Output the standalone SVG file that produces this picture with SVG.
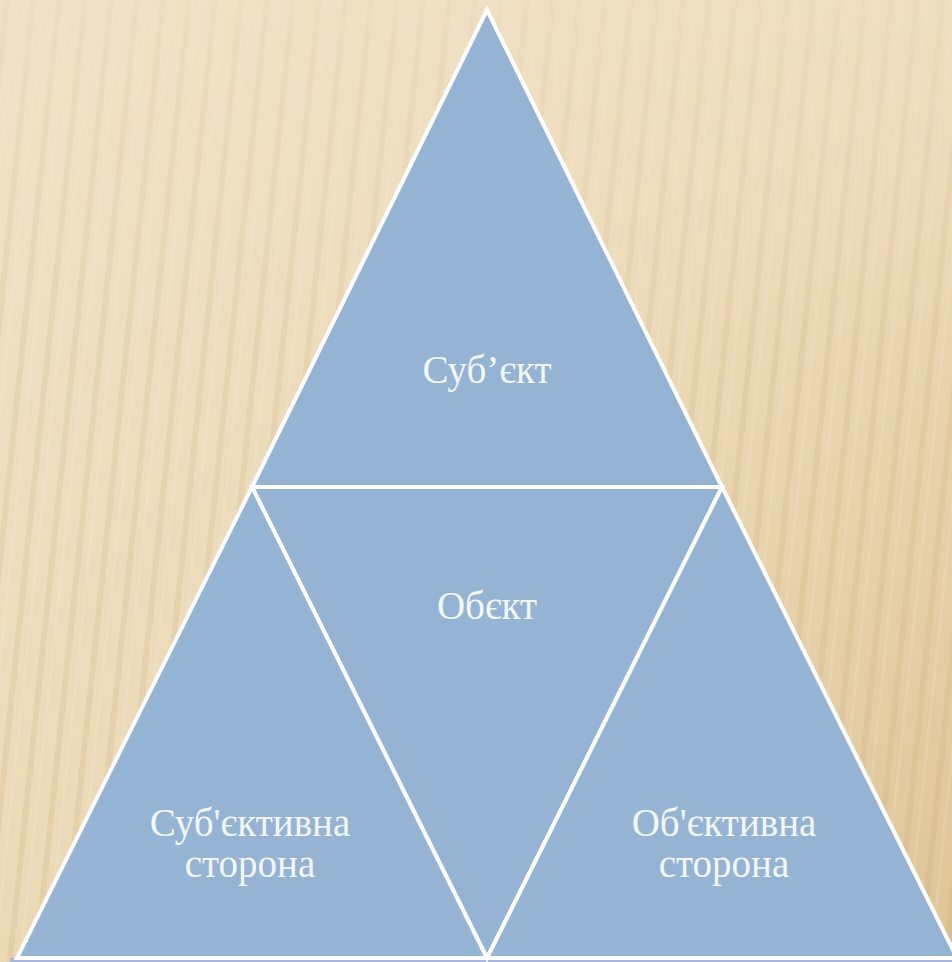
<svg xmlns="http://www.w3.org/2000/svg" width="952" height="962" viewBox="0 0 952 962">
  <defs>
    <linearGradient id="bg" x1="0" y1="0" x2="1" y2="1">
      <stop offset="0" stop-color="#F0E2C6"/>
      <stop offset="0.5" stop-color="#EBD9B6"/>
      <stop offset="1" stop-color="#DFC496"/>
    </linearGradient>
    <pattern id="stripes" width="26" height="962" patternUnits="userSpaceOnUse" patternTransform="skewX(-6)">
      <rect x="4" y="0" width="6" height="962" fill="#C9A66E" opacity="0.2"/>
      <rect x="16" y="0" width="3" height="962" fill="#FFFFFF" opacity="0.1"/>
    </pattern>
    <linearGradient id="fade" x1="0" y1="0" x2="0" y2="1">
      <stop offset="0" stop-color="#F0E2C6" stop-opacity="0.7"/>
      <stop offset="0.35" stop-color="#F0E2C6" stop-opacity="0.15"/>
      <stop offset="1" stop-color="#F0E2C6" stop-opacity="0"/>
    </linearGradient>
    <style>
      .tri { fill: #95B3D3; stroke: #FFFFFF; stroke-width: 4; stroke-linejoin: miter; }
      .lbl { font-family: "Liberation Serif", "DejaVu Serif", "Times New Roman", serif; font-size: 39px; fill: #F4F7FA; text-anchor: middle; }
    </style>
  </defs>
  <rect width="952" height="962" fill="url(#bg)"/>
  <rect width="952" height="962" fill="url(#stripes)"/>
  <rect width="952" height="962" fill="url(#fade)"/>
  <rect x="10" y="958" width="942" height="4" fill="#AAB6DA"/>
  <g id="top">
    <polygon class="tri" points="487,10 722,487 252,487"/>
    <text class="lbl" x="487" y="383">Суб’єкт</text>
  </g>
  <g id="middle">
    <polygon class="tri" points="252,487 722,487 487,958"/>
    <text class="lbl" x="487" y="619">Обєкт</text>
  </g>
  <g id="left">
    <polygon class="tri" points="252,487 487,958 17,958"/>
    <text class="lbl" x="250" y="836">Суб'єктивна</text>
    <text class="lbl" x="250" y="877">сторона</text>
  </g>
  <g id="right">
    <polygon class="tri" points="722,487 957,958 487,958"/>
    <text class="lbl" x="724" y="836">Об'єктивна</text>
    <text class="lbl" x="724" y="877">сторона</text>
  </g>
  <g id="connectors"/>
</svg>
